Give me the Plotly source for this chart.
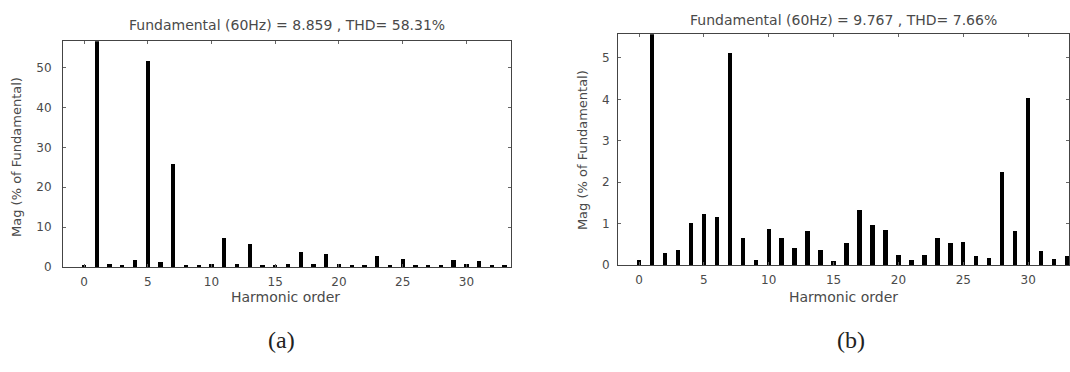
import plotly.graph_objects as go

# Harmonic orders shown on both spectra
harmonics = list(range(0, 34))

# (a) spectrum, magnitude in % of fundamental
mag_a = [0.3, 100, 0.7, 0.5, 1.8, 51.8, 1.2, 25.8, 0.2, 0.5,
         0.7, 7.2, 0.6, 5.6, 0.3, 0.5, 0.6, 3.8, 0.7, 3.2,
         0.6, 0.2, 0.2, 2.6, 0.3, 2.0, 0.2, 0.2, 0.4, 1.7,
         0.6, 1.5, 0.2, 0.2]

# (b) spectrum, magnitude in % of fundamental
mag_b = [0.1, 100, 0.28, 0.35, 1.0, 1.23, 1.15, 5.1, 0.65, 0.12,
         0.87, 0.65, 0.41, 0.81, 0.35, 0.08, 0.53, 1.31, 0.96, 0.84,
         0.24, 0.1, 0.24, 0.65, 0.51, 0.54, 0.21, 0.16, 2.23, 0.8,
         4.02, 0.33, 0.14, 0.2]

titles = ["Fundamental (60Hz) = 8.859 , THD= 58.31%",
          "Fundamental (60Hz) = 9.767 , THD= 7.66%"]
xlabel = "Harmonic order"
ylabel = "Mag (% of Fundamental)"
panel_labels = ["(a)", "(b)"]
yticks_a = [0, 10, 20, 30, 40, 50]
yticks_b = [0, 1, 2, 3, 4, 5]
xticks = [0, 5, 10, 15, 20, 25, 30]

W, H = 1070, 372
TXT = "#4a4a4a"
FONT = "DejaVu Sans, Arial, sans-serif"
SERIF = "Liberation Serif, Times New Roman, serif"


def px_x(a, b):
    return [a / W, b / W]


def px_y(top, bottom):
    return [1 - bottom / H, 1 - top / H]


def text_at(fig, text, x, y, size, family=FONT, color=TXT, angle=0):
    fig.add_annotation(text=text, x=x / W, y=1 - y / H, xref="paper", yref="paper",
                       xanchor="center", yanchor="middle", showarrow=False, textangle=angle,
                       font=dict(family=family, size=size, color=color))


fig = go.Figure()
fig.add_trace(go.Bar(x=harmonics, y=mag_a, width=0.34, marker=dict(color="black", line=dict(width=0)),
                     xaxis="x", yaxis="y", showlegend=False))
fig.add_trace(go.Bar(x=harmonics, y=mag_b, width=0.34, marker=dict(color="black", line=dict(width=0)),
                     xaxis="x2", yaxis="y2", showlegend=False))

axis_common = dict(showline=True, linecolor="#444", linewidth=1, mirror="ticks",
                   ticks="inside", ticklen=3, tickcolor="#666", showgrid=False,
                   zeroline=False, tickfont=dict(family=FONT, size=12, color=TXT))

fig.update_layout(
    width=W, height=H, margin=dict(l=0, r=0, t=0, b=0),
    paper_bgcolor="white", plot_bgcolor="white", bargap=0,
    xaxis=dict(domain=px_x(63, 511), range=[-1.65, 33.5], tickvals=xticks, anchor="y",
               ticklabelstandoff=4, **axis_common),
    yaxis=dict(domain=px_y(42, 272), range=[0, 56.7], tickvals=yticks_a, anchor="x",
               ticklabelstandoff=8, **axis_common),
    xaxis2=dict(domain=px_x(618, 1069), range=[-1.62, 33.15], tickvals=xticks, anchor="y2",
                ticklabelstandoff=4, **axis_common),
    yaxis2=dict(domain=px_y(35, 270), range=[0, 5.57], tickvals=yticks_b, anchor="x2",
                ticklabelstandoff=5, **axis_common),
)

# Titles, axis labels and panel captions
text_at(fig, titles[0], 287, 25, 14)
text_at(fig, titles[1], 843, 20, 14)
text_at(fig, xlabel, 285, 303, 14)
text_at(fig, xlabel, 843, 303, 14)
text_at(fig, ylabel, 17, 160, 13, angle=-90)
text_at(fig, ylabel, 582, 153, 13, angle=-90)
text_at(fig, panel_labels[0], 281, 347, 24, family=SERIF, color="#222")
text_at(fig, panel_labels[1], 851, 347, 24, family=SERIF, color="#222")

fig.write_html("out.html")
